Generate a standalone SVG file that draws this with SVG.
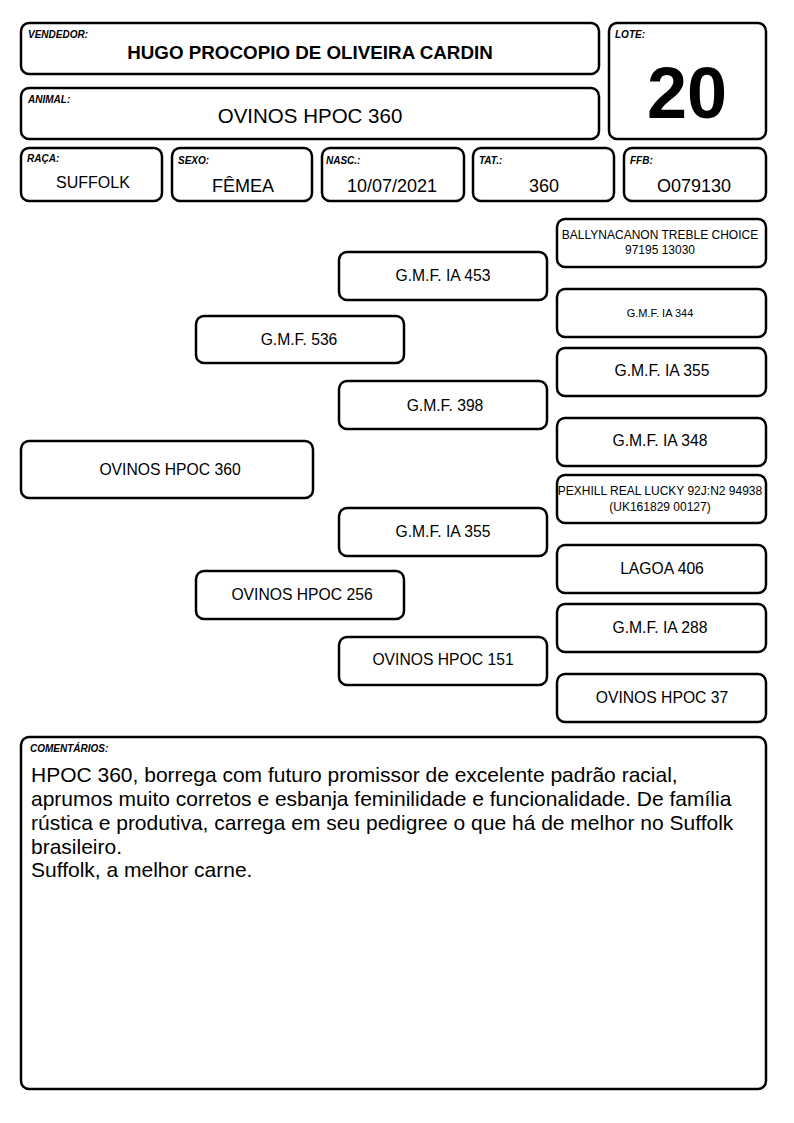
<svg xmlns="http://www.w3.org/2000/svg" width="794" height="1123" viewBox="0 0 794 1123">
<style>
.b{fill:#fff;stroke:#000;stroke-width:2.5}
.l{font-family:"Liberation Sans",Arial,sans-serif;font-size:10px;font-weight:bold;font-style:italic}
.v{font-family:"Liberation Sans",Arial,sans-serif;text-anchor:middle}
.p{font-family:"Liberation Sans",Arial,sans-serif;font-size:15.7px;text-anchor:middle}
.s{font-family:"Liberation Sans",Arial,sans-serif;font-size:12px;text-anchor:middle}
.c{font-family:"Liberation Sans",Arial,sans-serif;font-size:21px}
</style>
<rect width="794" height="1123" fill="#fff"/>
<g id="vendedor"><rect class="b" x="21" y="23" width="578" height="51" rx="8"/><text class="l" x="28" y="38">VENDEDOR:</text><text class="v" x="310" y="59" font-size="18.8" font-weight="bold">HUGO PROCOPIO DE OLIVEIRA CARDIN</text></g>
<g id="lote"><rect class="b" x="609" y="23" width="157" height="116" rx="8"/><text class="l" x="615" y="38">LOTE:</text><text class="v" x="687" y="118" font-size="72" font-weight="bold">20</text></g>
<g id="animal"><rect class="b" x="21" y="88" width="578" height="51" rx="8"/><text class="l" x="28" y="103">ANIMAL:</text><text class="v" x="310" y="123" font-size="20.5">OVINOS HPOC 360</text></g>
<g id="raca"><rect class="b" x="21" y="148" width="141" height="53" rx="8"/><text class="l" x="27" y="162">RAÇA:</text><text class="v" x="93" y="188" font-size="16">SUFFOLK</text></g>
<g id="sexo"><rect class="b" x="172" y="148" width="140" height="53" rx="8"/><text class="l" x="178" y="164">SEXO:</text><text class="v" x="243" y="192" font-size="18">FÊMEA</text></g>
<g id="nasc"><rect class="b" x="322" y="148" width="142" height="53" rx="8"/><text class="l" x="326" y="164">NASC.:</text><text class="v" x="392" y="192" font-size="18">10/07/2021</text></g>
<g id="tat"><rect class="b" x="473" y="148" width="141" height="53" rx="8"/><text class="l" x="479" y="164">TAT.:</text><text class="v" x="544" y="192" font-size="18">360</text></g>
<g id="ffb"><rect class="b" x="624" y="148" width="142" height="53" rx="8"/><text class="l" x="630" y="164">FFB:</text><text class="v" x="694" y="192" font-size="18">O079130</text></g>
<g id="n0"><rect class="b" x="21" y="441" width="292" height="57" rx="8"/><text class="p" x="170" y="475">OVINOS HPOC 360</text></g>
<g id="n1"><rect class="b" x="196" y="316" width="208" height="47" rx="8"/><text class="p" x="299" y="345">G.M.F. 536</text></g>
<g id="n2"><rect class="b" x="196" y="571" width="208" height="48" rx="8"/><text class="p" x="302" y="600">OVINOS HPOC 256</text></g>
<g id="n3"><rect class="b" x="339" y="252" width="208" height="48" rx="8"/><text class="p" x="443" y="281">G.M.F. IA 453</text></g>
<g id="n4"><rect class="b" x="339" y="381" width="208" height="48" rx="8"/><text class="p" x="445" y="411">G.M.F. 398</text></g>
<g id="n5"><rect class="b" x="339" y="508" width="208" height="48" rx="8"/><text class="p" x="443" y="537">G.M.F. IA 355</text></g>
<g id="n6"><rect class="b" x="339" y="637" width="208" height="48" rx="8"/><text class="p" x="443" y="665">OVINOS HPOC 151</text></g>
<g id="n7"><rect class="b" x="557" y="219" width="209" height="48" rx="8"/><text class="s" x="660" y="239">BALLYNACANON TREBLE CHOICE</text><text class="s" x="660" y="254">97195 13030</text></g>
<g id="n8"><rect class="b" x="557" y="289" width="209" height="48" rx="8"/><text class="v" x="660" y="317" font-size="11">G.M.F. IA 344</text></g>
<g id="n9"><rect class="b" x="557" y="348" width="209" height="48" rx="8"/><text class="p" x="662" y="376">G.M.F. IA 355</text></g>
<g id="n10"><rect class="b" x="557" y="418" width="209" height="48" rx="8"/><text class="p" x="660" y="446">G.M.F. IA 348</text></g>
<g id="n11"><rect class="b" x="557" y="475" width="209" height="48" rx="8"/><text class="s" x="660" y="495">PEXHILL REAL LUCKY 92J:N2 94938</text><text class="s" x="660" y="511">(UK161829 00127)</text></g>
<g id="n12"><rect class="b" x="557" y="545" width="209" height="48" rx="8"/><text class="p" x="662" y="574">LAGOA 406</text></g>
<g id="n13"><rect class="b" x="557" y="604" width="209" height="48" rx="8"/><text class="p" x="660" y="633">G.M.F. IA 288</text></g>
<g id="n14"><rect class="b" x="557" y="674" width="209" height="48" rx="8"/><text class="p" x="662" y="703">OVINOS HPOC 37</text></g>
<g id="connectors"></g>
<g id="comentarios"><rect class="b" x="21" y="737" width="745" height="352" rx="8"/><text class="l" x="30" y="752">COMENTÁRIOS:</text>
<text class="c" x="31" y="782">HPOC 360, borrega com futuro promissor de excelente padrão racial,</text>
<text class="c" x="31" y="806">aprumos muito corretos e esbanja feminilidade e funcionalidade. De família</text>
<text class="c" x="31" y="830">rústica e produtiva, carrega em seu pedigree o que há de melhor no Suffolk</text>
<text class="c" x="31" y="854">brasileiro.</text>
<text class="c" x="31" y="877">Suffolk, a melhor carne.</text></g>
</svg>
